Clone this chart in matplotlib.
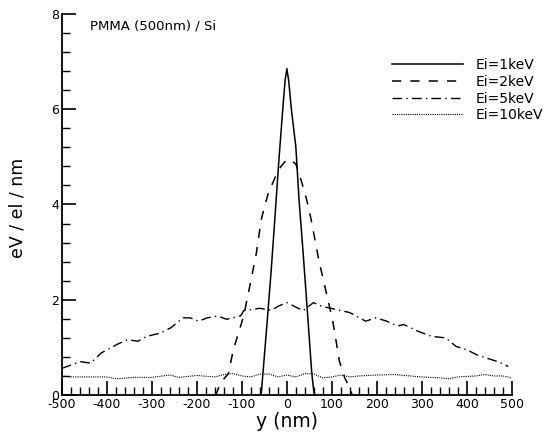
"""Energy deposition profiles in PMMA (500nm) / Si."""
import matplotlib
matplotlib.use("Agg")
import matplotlib.pyplot as plt
from matplotlib.ticker import MultipleLocator

plt.rcParams["font.family"] = ["DejaVu Sans"]
plt.rcParams["axes.unicode_minus"] = False

# Ei = 1 keV
x_1kev = [-60, -57, -45, -35, -26, -18, -10, -4, 0, 4, 10, 20, 27, 36, 46, 55, 60, 63]
y_1kev = [0.0, 0.02, 1.4, 2.6, 3.8, 4.9, 5.9, 6.6, 6.85, 6.6, 6.0, 5.2, 4.1, 3.0, 1.7, 0.5, 0.05, 0.0]

# Ei = 2 keV
x_2kev = [-160, -157, -148, -130, -119, -96, -80, -68, -57, -53, -41, -18, 0, 5, 20, 32,
          44, 54, 71, 90, 102, 117, 129, 140, 145]
y_2kev = [0.0, 0.02, 0.25, 0.45, 0.95, 1.66, 2.4, 2.97, 3.68, 3.83, 4.25, 4.74, 4.95,
          4.95, 4.85, 4.5, 4.1, 3.68, 2.83, 2.05, 1.55, 0.7, 0.35, 0.15, 0.0]

# Ei = 5 keV
x_5kev = [-500, -459, -436, -413, -378, -355, -331, -312, -281, -258, -231, -215, -196,
          -177, -154, -134, -103, -96, -61, -34, -18, 0, 17, 36, 59, 78, 98, 121, 140,
          175, 198, 222, 245, 260, 291, 322, 353, 376, 400, 423, 446, 469, 492]
y_5kev = [0.56, 0.70, 0.67, 0.88, 1.06, 1.16, 1.13, 1.23, 1.30, 1.41, 1.62, 1.62, 1.55,
          1.62, 1.66, 1.59, 1.66, 1.77, 1.82, 1.78, 1.87, 1.94, 1.86, 1.77, 1.94, 1.86,
          1.82, 1.77, 1.73, 1.55, 1.62, 1.55, 1.45, 1.48, 1.34, 1.23, 1.20, 1.02, 0.95,
          0.84, 0.77, 0.70, 0.60]

# Ei = 10 keV
x_10kev = [-500, -480, -440, -400, -380, -340, -300, -260, -240, -200, -160, -140, -120,
           -100, -80, -60, -40, -20, 0, 20, 40, 60, 80, 100, 120, 140, 160, 180, 200,
           240, 260, 300, 340, 360, 380, 420, 440, 460, 480, 500]
y_10kev = [0.40, 0.38, 0.38, 0.38, 0.34, 0.37, 0.37, 0.42, 0.37, 0.41, 0.38, 0.43, 0.45,
           0.40, 0.38, 0.44, 0.44, 0.38, 0.42, 0.38, 0.45, 0.44, 0.36, 0.38, 0.42, 0.38,
           0.40, 0.41, 0.42, 0.43, 0.41, 0.38, 0.36, 0.34, 0.38, 0.40, 0.43, 0.40, 0.40,
           0.36]

labels = ["Ei=1keV", "Ei=2keV", "Ei=5keV", "Ei=10keV"]


def main():
    fig = plt.figure(figsize=(5.48, 4.36), dpi=100)
    ax = fig.add_axes([0.113, 0.094, 0.821, 0.874])

    ax.plot(x_1kev, y_1kev, color="black", lw=1.1, ls="-", label=labels[0])
    ax.plot(x_2kev, y_2kev, color="black", lw=1.1, ls=(0, (6, 6)), label=labels[1])
    ax.plot(x_5kev, y_5kev, color="black", lw=1.0, ls=(0, (7, 3, 1, 3)), label=labels[2])
    ax.plot(x_10kev, y_10kev, color="black", lw=0.8, ls=(0, (1, 1)), label=labels[3])

    ax.set_xlim(-500, 500)
    ax.set_ylim(0, 8)
    ax.spines["top"].set_visible(False)
    ax.spines["right"].set_visible(False)
    for side in ("left", "bottom"):
        ax.spines[side].set_linewidth(1.3)

    ax.xaxis.set_major_locator(MultipleLocator(100))
    ax.xaxis.set_minor_locator(MultipleLocator(20))
    ax.yaxis.set_major_locator(MultipleLocator(2))
    ax.yaxis.set_minor_locator(MultipleLocator(0.4))
    ax.tick_params(which="major", direction="in", length=10, width=1.2, labelsize=9,
                   pad=2)
    ax.tick_params(which="minor", direction="in", length=6, width=1.0)

    ax.set_xlabel("y (nm)", fontsize=13.5, labelpad=1)
    ax.set_ylabel("eV / el / nm", fontsize=12.5)
    ax.yaxis.set_label_coords(-0.078, 0.49)
    ax.text(0.062, 0.985, "PMMA (500nm) / Si", transform=ax.transAxes,
            fontsize=9.5, va="top", ha="left")

    ax.legend(loc="upper left", bbox_to_anchor=(392 / 548, 1 - 58 / 436),
              bbox_transform=fig.transFigure, frameon=False,
              fontsize=10, handlelength=5.1, handletextpad=0.9, labelspacing=0.2,
              borderpad=0, borderaxespad=0)

    fig.savefig("out.png", dpi=100)


if __name__ == "__main__":
    main()
